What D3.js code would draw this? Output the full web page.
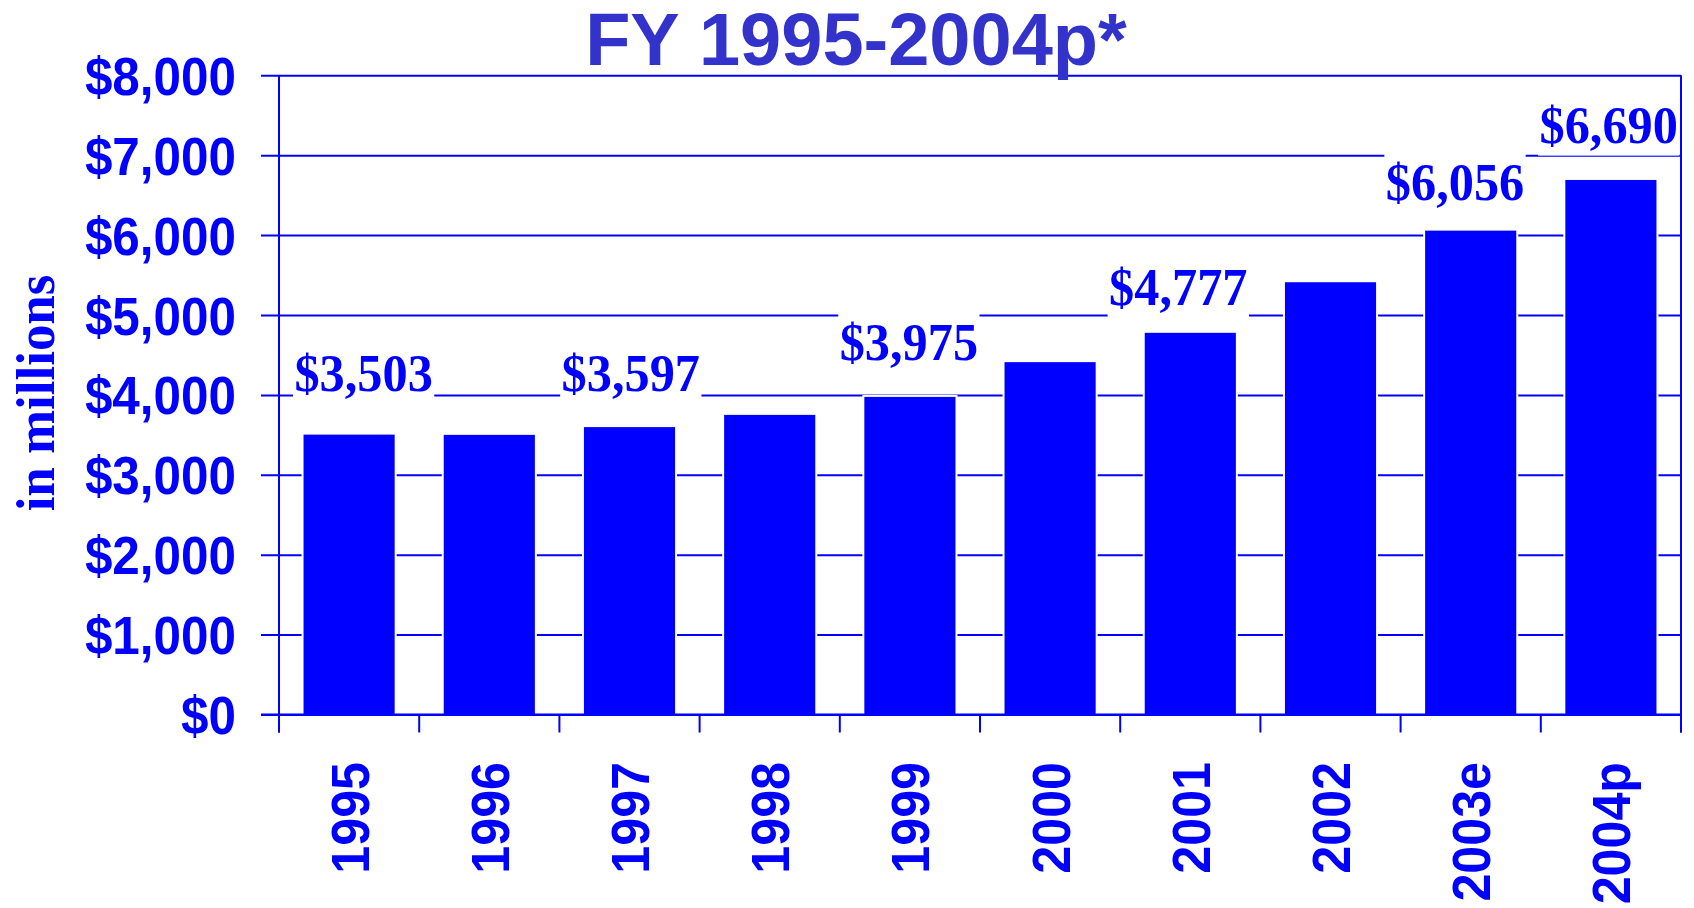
<!DOCTYPE html>
<html>
<head>
<meta charset="utf-8">
<script src="https://cdn.jsdelivr.net/npm/d3@7"></script>
<style>
  html, body { margin: 0; padding: 0; background: #ffffff; }
  svg { display: block; }
</style>
</head>
<body>
<svg id="chart" width="1694" height="908"></svg>
<script>
// ---------------- data ----------------
const categories = ["1995", "1996", "1997", "1998", "1999", "2000", "2001", "2002", "2003e", "2004p"];
const values     = [3503, 3500, 3597, 3750, 3975, 4410, 4777, 5410, 6056, 6690];
const labelledCategories = ["1995", "1997", "1999", "2001", "2003e", "2004p"];
const yTickValues = [0, 1000, 2000, 3000, 4000, 5000, 6000, 7000, 8000];
const titleText = "FY 1995-2004p*";
const yTitleText = "in millions";

// ---------------- layout ----------------
const W = 1694, H = 908;
const plotLeft = 279, plotRight = 1681, plotTop = 75.3, plotBottom = 714.5;
const blue = "#0000ff";
const titleColor = "#3333cc";
const sans = "'Liberation Sans', Arial, Helvetica, sans-serif";
const serif = "'Liberation Serif', 'Times New Roman', Times, serif";
// hand placement of the value labels relative to bar centre / bar top
const labelNudge = {
  "1995": [14.5, -43.6], "1997": [1.3, -36.4], "1999": [-1, -36.9],
  "2001": [-12, -27.8], "2003e": [-15.7, -30.6], "2004p": [-2.2, -36.6]
};

const svg = d3.select("#chart");
svg.append("rect").attr("width", W).attr("height", H).attr("fill", "#fff");

const x = d3.scaleBand().domain(categories).range([plotLeft, plotRight])
  .paddingInner(0.35).paddingOuter(0.175);
const y = d3.scaleLinear().domain([0, 8000]).range([plotBottom, plotTop]);
const fmt = d3.format(",");
const data = categories.map((c, i) => ({ cat: c, value: values[i] }));

// ---------------- gridlines + y labels via axis ----------------
const yAxis = d3.axisLeft(y).tickValues(yTickValues).tickSize(18)
  .tickFormat(d => "$" + fmt(d));
const gy = svg.append("g").attr("transform", `translate(${plotLeft},0)`).call(yAxis);
gy.select(".domain").remove();
gy.selectAll(".tick line")
  .attr("x1", plotRight - plotLeft).attr("x2", -18)
  .attr("stroke", blue).attr("stroke-width", 2);
gy.selectAll(".tick text")
  .attr("x", null).attr("dy", null)
  .attr("transform", "translate(-43,19) scale(0.915,1)")
  .attr("fill", blue)
  .style("font-family", sans).style("font-weight", "bold").style("font-size", "54px");

// ---------------- bars ----------------
const bw = x.bandwidth();
svg.append("g").selectAll("rect").data(data).join("rect")
  .attr("x", d => x(d.cat) - 2).attr("width", bw + 4)
  .attr("y", d => y(d.value) - 2).attr("height", d => y(0) - y(d.value) + 2)
  .attr("fill", "#fff");
svg.append("g").selectAll("rect").data(data).join("rect")
  .attr("x", d => x(d.cat)).attr("width", bw)
  .attr("y", d => y(d.value)).attr("height", d => y(0) - y(d.value))
  .attr("fill", blue);

// ---------------- value labels with white boxes ----------------
const lab = svg.append("g").selectAll("g")
  .data(data.filter(d => labelledCategories.includes(d.cat))).join("g")
  .attr("transform", d => {
    const n = labelNudge[d.cat];
    const cx = x(d.cat) + bw / 2 + n[0];
    const by = y(d.value) + n[1];
    return `translate(${cx},${by}) scale(0.95,1)`;
  });
lab.each(function(d) {
  const g = d3.select(this);
  const t = g.append("text")
    .attr("text-anchor", "middle")
    .attr("fill", blue)
    .style("font-family", serif).style("font-weight", "bold").style("font-size", "53px")
    .text("$" + fmt(d.value));
  const bb = t.node().getBBox();
  g.insert("rect", "text")
    .attr("x", bb.x - 1.5).attr("y", bb.y - 1)
    .attr("width", bb.width + 3).attr("height", bb.height + 2)
    .attr("fill", "#fff");
});

// ---------------- axes lines ----------------
const step = x.step();
const boundaries = d3.range(categories.length + 1).map(i => x.range()[0] + i * step);
const axes = svg.append("g").attr("stroke", blue).attr("stroke-width", 2);
axes.append("line").attr("x1", plotLeft - 18).attr("x2", plotRight)
  .attr("y1", y(0)).attr("y2", y(0));
axes.append("line").attr("x1", plotLeft).attr("x2", plotLeft)
  .attr("y1", y(8000)).attr("y2", y(0) + 18);
axes.append("line").attr("x1", plotRight).attr("x2", plotRight)
  .attr("y1", y(8000)).attr("y2", y(0) + 18);
axes.selectAll("line.tk").data(boundaries).join("line").attr("class", "tk")
  .attr("x1", d => d).attr("x2", d => d)
  .attr("y1", y(0)).attr("y2", y(0) + 18);

// ---------------- category labels ----------------
svg.append("g").selectAll("text").data(categories).join("text")
  .attr("transform", d => `translate(${x(d) + bw / 2},762) rotate(-90) scale(0.93,1)`)
  .attr("text-anchor", "end")
  .attr("dy", "0.36em")
  .attr("fill", blue)
  .style("font-family", sans).style("font-weight", "bold").style("font-size", "54px")
  .text(d => d);

// ---------------- titles ----------------
svg.append("text")
  .attr("x", 856).attr("y", 65)
  .attr("text-anchor", "middle")
  .attr("fill", titleColor)
  .style("font-family", sans).style("font-weight", "bold").style("font-size", "74px")
  .text(titleText);

svg.append("text")
  .attr("transform", "translate(54,393) rotate(-90) scale(0.98,1)")
  .attr("text-anchor", "middle")
  .attr("fill", blue)
  .style("font-family", serif).style("font-weight", "bold").style("font-size", "54px")
  .text(yTitleText);
</script>
</body>
</html>
